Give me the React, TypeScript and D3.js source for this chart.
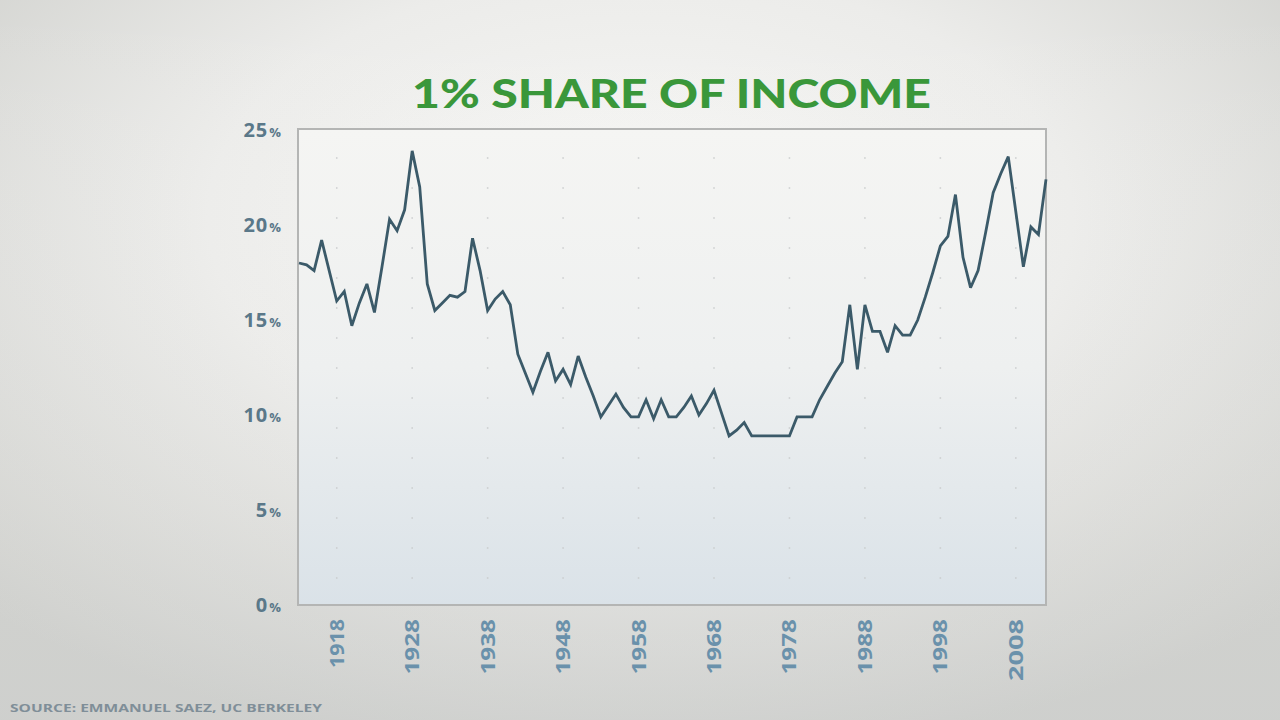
import React from "react";
import * as d3 from "d3";

const years: number[] = d3.range(1913, 2013);
const shares: number[] = [
  18.0, 17.9, 17.6, 19.2, 17.6, 16.0, 16.5, 14.7, 15.9, 16.9,
  15.4, 17.8, 20.3, 19.7, 20.8, 23.9, 22.0, 16.9, 15.5, 15.9,
  16.3, 16.2, 16.5, 19.3, 17.6, 15.5, 16.1, 16.5, 15.8, 13.2,
  12.2, 11.2, 12.3, 13.3, 11.8, 12.4, 11.6, 13.1, 12.0, 11.0,
  9.9, 10.5, 11.1, 10.4, 9.9, 9.9, 10.8, 9.8, 10.8, 9.9,
  9.9, 10.4, 11.0, 10.0, 10.6, 11.3, 10.1, 8.9, 9.2, 9.6,
  8.9, 8.9, 8.9, 8.9, 8.9, 8.9, 9.9, 9.9, 9.9, 10.8,
  11.5, 12.2, 12.8, 15.8, 12.4, 15.8, 14.4, 14.4, 13.3, 14.7,
  14.2, 14.2, 15.0, 16.2, 17.5, 18.9, 19.4, 21.6, 18.3, 16.7,
  17.6, 19.6, 21.7, 22.7, 23.6, 20.7, 17.8, 19.9, 19.5, 22.4,
];
const yTicks: number[] = [0, 5, 10, 15, 20, 25];
const xTicks: number[] = [1918, 1928, 1938, 1948, 1958, 1968, 1978, 1988, 1998, 2008];
const titleText = "1% SHARE OF INCOME";
const sourceText = "SOURCE: EMMANUEL SAEZ, UC BERKELEY";

const W = 1280;
const H = 720;
const plot = { left: 298, right: 1046, top: 129, bottom: 605 };

export default function App() {
  const x = d3.scaleLinear().domain([1913, 2012]).range([plot.left + 1, plot.right]);
  const y = d3.scaleLinear().domain([0, 25]).range([plot.bottom, plot.top + 1]);
  const data = years.map((yr, i) => ({ yr, v: shares[i] }));
  const line = d3
    .line<{ yr: number; v: number }>()
    .x((d) => x(d.yr))
    .y((d) => y(d.v))
    .curve(d3.curveLinear);

  const labelFont = "'Open Sans', 'DejaVu Sans', sans-serif";
  const digitLen = (s: string) =>
    s.split("").reduce((acc, c) => acc + (c === "1" ? 9 : 15.5), 0);

  return (
    <svg
      width={W}
      height={H}
      style={{ position: "absolute", left: 0, top: 0, display: "block" }}
    >
      <defs>
        <radialGradient id="bg" cx="0.5" cy="0.3" r="0.75">
          <stop offset="0" stopColor="#f7f7f5" />
          <stop offset="0.45" stopColor="#ececea" />
          <stop offset="1" stopColor="#c9cac6" />
        </radialGradient>
        <linearGradient id="bgv" x1="0" y1="0" x2="0" y2="1">
          <stop offset="0" stopColor="#ffffff" stopOpacity="0" />
          <stop offset="0.7" stopColor="#e8e8e6" stopOpacity="0.25" />
          <stop offset="1" stopColor="#d8dadb" stopOpacity="0.35" />
        </linearGradient>
        <linearGradient id="panel" x1="0" y1="0" x2="0" y2="1">
          <stop offset="0" stopColor="#f5f5f3" />
          <stop offset="0.5" stopColor="#eef0f0" />
          <stop offset="1" stopColor="#dae2e8" />
        </linearGradient>
      </defs>
      <rect x={0} y={0} width={W} height={H} fill="url(#bg)" />
      <rect x={0} y={0} width={W} height={H} fill="url(#bgv)" />

      <text
        x={(412 + 931) / 2}
        y={108}
        textAnchor="middle"
        fill="#3a973a"
        fontFamily="'Lato', 'Open Sans', sans-serif"
        fontWeight={900}
        fontSize={40}
        textLength={519}
        lengthAdjust="spacingAndGlyphs"
      >
        {titleText}
      </text>

      <rect
        x={plot.left}
        y={plot.top}
        width={plot.right - plot.left}
        height={plot.bottom - plot.top}
        fill="url(#panel)"
        stroke="#b4b5b4"
        strokeWidth={2}
      />

      {xTicks.map((t) => (
        <line
          key={"g" + t}
          x1={x(t)}
          x2={x(t)}
          y1={plot.top + 28}
          y2={plot.bottom}
          stroke="#c9cbcc"
          strokeWidth={1.5}
          strokeDasharray="2 28"
          opacity={0.7}
        />
      ))}

      <path
        d={line(data) || ""}
        fill="none"
        stroke="#3b5a69"
        strokeWidth={2.8}
        strokeLinejoin="miter"
        strokeMiterlimit={3}
      />

      {yTicks.map((t) => (
        <text
          key={"y" + t}
          x={282}
          y={y(t) + 7}
          textAnchor="end"
          fill="#5a7889"
          fontFamily={labelFont}
          fontWeight={700}
          fontSize={20}
          letterSpacing={1}
        >
          {t}
          <tspan fontSize={13} dx={1}>%</tspan>
        </text>
      ))}

      {xTicks.map((t) => (
        <text
          key={"x" + t}
          transform={`translate(${x(t) + 7},${619}) rotate(-90)`}
          textAnchor="end"
          fill="#6a91ab"
          fontFamily={labelFont}
          fontWeight={700}
          fontSize={19}
          textLength={digitLen(String(t))}
          lengthAdjust="spacingAndGlyphs"
        >
          {t}
        </text>
      ))}

      <text
        x={10}
        y={712}
        fill="#7f8e98"
        fontFamily={labelFont}
        fontWeight={700}
        fontSize={11}
        textLength={312}
        lengthAdjust="spacingAndGlyphs"
      >
        {sourceText}
      </text>
    </svg>
  );
}
